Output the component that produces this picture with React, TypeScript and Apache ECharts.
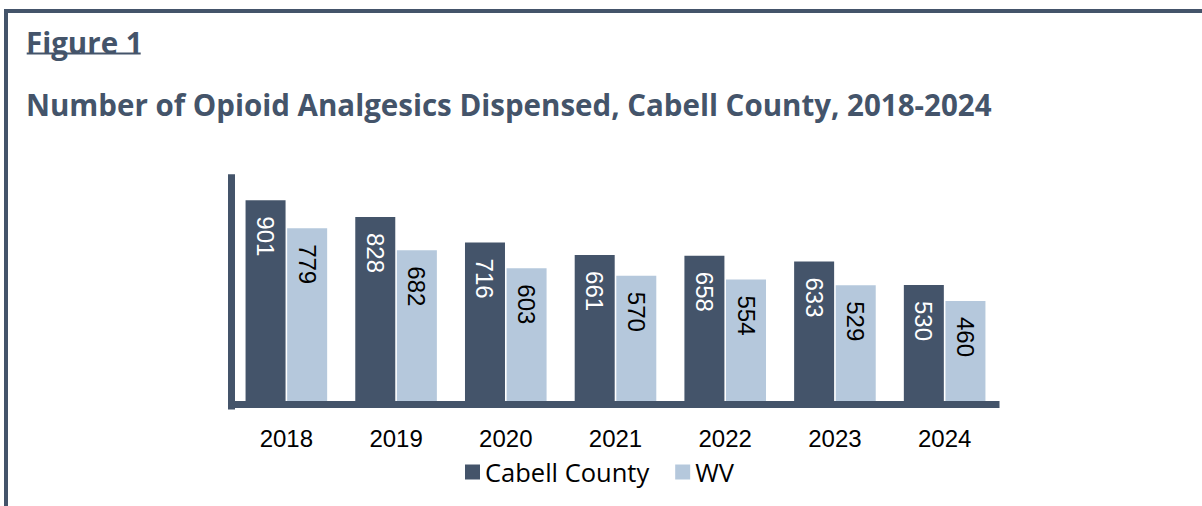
import React, { useEffect, useRef } from "react";
import * as echarts from "echarts";

const years = ["2018", "2019", "2020", "2021", "2022", "2023", "2024"];
const cabell = [901, 828, 716, 661, 658, 633, 530];
const wv = [779, 682, 603, 570, 554, 529, 460];
const seriesNames = ["Cabell County", "WV"];
const figureLabel = "Figure 1";
const titleText = "Number of Opioid Analgesics Dispensed, Cabell County, 2018-2024";

const DARK = "#44546a";
const LIGHT = "#b5c8dc";
const TITLE_FONT = "bold 29.5px 'Open Sans', sans-serif";

export default function App() {
  const ref = useRef<HTMLDivElement>(null);
  useEffect(() => {
    if (!ref.current) return;
    const chart = echarts.init(ref.current, null, { renderer: "svg" });
    const barLabel = (color: string) => ({
      show: true,
      position: "insideTop",
      distance: 16,
      rotate: -90,
      align: "left",
      verticalAlign: "middle",
      color,
      fontSize: 24,
      fontFamily: "Liberation Sans, Arial, sans-serif",
    });
    chart.setOption({
      animation: false,
      backgroundColor: "#ffffff",
      graphic: [
        { type: "rect", shape: { x: 4, y: 9, width: 1198, height: 4 }, style: { fill: DARK } },
        { type: "rect", shape: { x: 4, y: 9, width: 4, height: 497 }, style: { fill: DARK } },
        {
          type: "text",
          x: 26,
          y: 42.5,
          style: {
            text: figureLabel,
            fill: DARK,
            font: TITLE_FONT,
            verticalAlign: "middle",
            align: "left",
          },
        },
        { type: "rect", shape: { x: 26.7, y: 52.5, width: 114, height: 2 }, style: { fill: DARK } },
        {
          type: "text",
          x: 26,
          y: 104.7,
          style: {
            text: titleText,
            fill: DARK,
            font: TITLE_FONT,
            verticalAlign: "middle",
            align: "left",
          },
        },
      ],
      legend: {
        data: seriesNames,
        left: 465,
        top: 459,
        padding: 0,
        itemWidth: 15,
        itemHeight: 15,
        itemGap: 26,
        icon: "rect",
        textStyle: { fontFamily: "Open Sans, sans-serif", fontSize: 25.5, color: "#000" },
      },
      grid: { left: 231.5, right: 202.5, top: 177.7, bottom: 100, containLabel: false },
      xAxis: {
        type: "category",
        data: years,
        z: 5,
        offset: -1.5,
        axisLine: { show: true, lineStyle: { color: DARK, width: 7, cap: "butt" } },
        axisTick: { show: false },
        axisLabel: {
          margin: 22,
          color: "#000",
          fontSize: 24,
          fontFamily: "Liberation Sans, Arial, sans-serif",
        },
      },
      yAxis: {
        type: "value",
        min: 0,
        max: 1000,
        axisLine: { show: true, lineStyle: { color: DARK, width: 7, cap: "square" } },
        axisTick: { show: false },
        axisLabel: { show: false },
        splitLine: { show: false },
      },
      series: [
        {
          name: seriesNames[0],
          type: "bar",
          data: cabell,
          barWidth: 40,
          barGap: "4%",
          itemStyle: { color: DARK },
          label: barLabel("#ffffff"),
        },
        {
          name: seriesNames[1],
          type: "bar",
          data: wv,
          barWidth: 40,
          itemStyle: { color: LIGHT },
          label: barLabel("#000000"),
        },
      ],
    });
    return () => chart.dispose();
  }, []);
  return (
    <div
      ref={ref}
      style={{ position: "absolute", left: 0, top: 0, width: 1202, height: 506 }}
    />
  );
}
